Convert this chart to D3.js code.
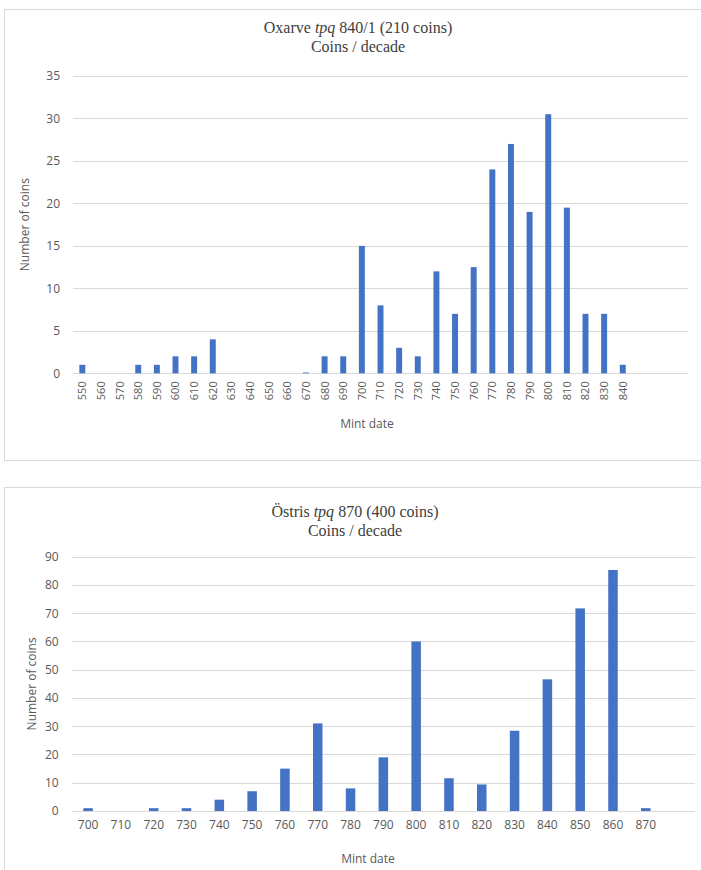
<!DOCTYPE html>
<html>
<head>
<meta charset="utf-8">
<script src="https://cdn.jsdelivr.net/npm/d3@7"></script>
<style>
  html, body { margin: 0; padding: 0; background: #fff; }
  svg { display: block; }
</style>
</head>
<body>
<svg id="chart" width="701" height="870"></svg>
<script>
// Oxarve hoard, tpq 840/1: coins per decade of minting
const oxarveDecades = ["550","560","570","580","590","600","610","620","630","640","650","660","670","680","690",
                       "700","710","720","730","740","750","760","770","780","790","800","810","820","830","840"];
const oxarveCoins   = [1,0,0,1,1,2,2,4,0,0,0,0,0.1,2,2,
                       15,8,3,2,12,7,12.5,24,27,19,30.5,19.5,7,7,1];
const oxarveTicks   = [0,5,10,15,20,25,30,35];

// Östris hoard, tpq 870: coins per decade of minting
const ostrisDecades = ["700","710","720","730","740","750","760","770","780","790",
                       "800","810","820","830","840","850","860","870"];
const ostrisCoins   = [1,0,1,1,4,7,15,31,8,19,60,11.6,9.4,28.4,46.6,71.7,85.3,1];
const ostrisTicks   = [0,10,20,30,40,50,60,70,80,90];

const svg = d3.select("#chart");
const BAR = "#4472c4";
const GRID = "#d9d9d9";
const TEXT = "#595959";
const SANS = "'Open Sans', 'Liberation Sans', sans-serif";
const SERIF = "'Liberation Serif', 'Times New Roman', serif";

function drawPanel(o) {
  const g = svg.append("g");

  // outer frame of the panel
  g.append("rect")
    .attr("x", o.box[0] + 0.5).attr("y", o.box[1] + 0.5)
    .attr("width", o.box[2]).attr("height", o.box[3])
    .attr("fill", "#fff").attr("stroke", GRID).attr("stroke-width", 1);

  // title: place name, italic tpq, coin count; subtitle below
  const title = g.append("text")
    .attr("x", o.titleX).attr("y", o.titleY)
    .attr("text-anchor", "middle")
    .attr("font-family", SERIF).attr("font-size", 16).attr("fill", "#404040");
  title.append("tspan").text(o.place + " ");
  title.append("tspan").attr("font-style", "italic").text("tpq");
  title.append("tspan").text(" " + o.tail);
  g.append("text")
    .attr("x", o.titleX).attr("y", o.titleY + 19)
    .attr("text-anchor", "middle")
    .attr("font-family", SERIF).attr("font-size", 16).attr("fill", "#404040")
    .text("Coins / decade");

  const slots = o.categories.length + o.emptySlots;
  const x = d3.scaleBand()
    .domain(d3.range(slots))
    .range([o.left, o.right])
    .paddingInner(o.gap)
    .paddingOuter(o.gap / 2);
  const y = d3.scaleLinear()
    .domain([0, o.yMax])
    .range([o.bottom, o.top]);

  // horizontal gridlines
  g.append("g").selectAll("line")
    .data(o.ticks)
    .join("line")
    .attr("x1", o.left).attr("x2", o.right)
    .attr("y1", d => Math.round(y(d)) + 0.5)
    .attr("y2", d => Math.round(y(d)) + 0.5)
    .attr("stroke", GRID).attr("stroke-width", 1);

  // y axis labels
  const yAxis = g.append("g")
    .attr("transform", `translate(${o.left - 13},0)`)
    .call(d3.axisLeft(y).tickValues(o.ticks).tickSize(0).tickPadding(0));
  yAxis.select(".domain").remove();
  yAxis.selectAll("text")
    .attr("font-family", SANS).attr("font-size", 12).attr("fill", TEXT);

  // bars
  g.append("g").selectAll("rect")
    .data(o.values)
    .join("rect")
    .attr("x", (d, i) => x(i))
    .attr("width", x.bandwidth())
    .attr("y", d => y(d))
    .attr("height", d => y(0) - y(d))
    .attr("fill", BAR);

  // x axis labels
  const xAxis = g.append("g")
    .attr("transform", `translate(0,${o.bottom})`)
    .call(d3.axisBottom(x)
      .tickValues(d3.range(o.categories.length))
      .tickFormat(i => o.categories[i])
      .tickSize(0)
      .tickPadding(o.tickPad));
  xAxis.select(".domain").remove();
  const xt = xAxis.selectAll("text")
    .attr("font-family", SANS).attr("font-size", o.xFont).attr("fill", TEXT);
  if (o.rotate) {
    xt.attr("transform", "rotate(-90)")
      .attr("text-anchor", "end")
      .attr("x", -o.tickPad).attr("y", 0).attr("dy", "0.36em");
  }

  // axis titles
  g.append("text")
    .attr("transform", `translate(${o.yTitleX},${(o.top + o.bottom) / 2}) rotate(-90)`)
    .attr("text-anchor", "middle")
    .attr("font-family", SANS).attr("font-size", 12).attr("fill", TEXT)
    .text("Number of coins");
  g.append("text")
    .attr("x", o.xTitleX).attr("y", o.xTitleY)
    .attr("text-anchor", "middle")
    .attr("font-family", SANS).attr("font-size", 12).attr("fill", TEXT)
    .text("Mint date");
}

drawPanel({
  box: [4, 9, 720, 451],
  place: "Oxarve", tail: "840/1 (210 coins)",
  titleX: 358, titleY: 33,
  categories: oxarveDecades, values: oxarveCoins, emptySlots: 3,
  ticks: oxarveTicks, yMax: 35,
  left: 73, right: 688, top: 76, bottom: 373.3,
  gap: 0.68, rotate: true, tickPad: 8, xFont: 11,
  yTitleX: 29, xTitleX: 367, xTitleY: 428
});

drawPanel({
  box: [4, 487, 720, 400],
  place: "Östris", tail: "870 (400 coins)",
  titleX: 355, titleY: 517,
  categories: ostrisDecades, values: ostrisCoins, emptySlots: 1,
  ticks: ostrisTicks, yMax: 90,
  left: 71.7, right: 695, top: 556.7, bottom: 811,
  gap: 0.71, rotate: false, tickPad: 9, xFont: 12,
  yTitleX: 36, xTitleX: 368, xTitleY: 863
});
</script>
</body>
</html>
